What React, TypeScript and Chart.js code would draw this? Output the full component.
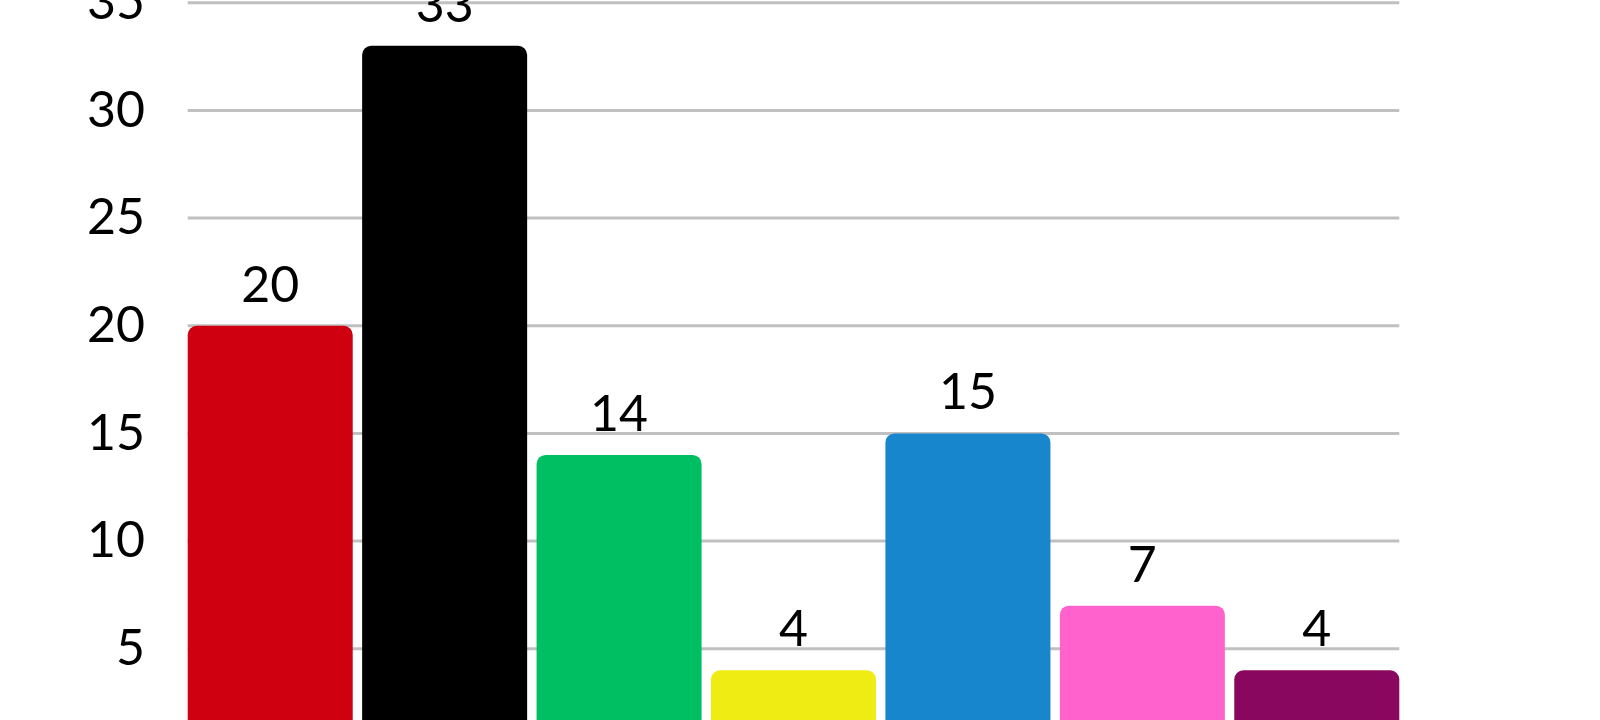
import React, { useEffect, useRef } from 'react';
import Chart from 'chart.js/auto';

const labels = ['A', 'B', 'C', 'D', 'E', 'F', 'G'];
const values = [20, 33, 14, 4, 15, 7, 4];
const colors = ['#cf000f', '#000000', '#00bf63', '#efec14', '#1786cc', '#ff62cd', '#8a075f'];
const yTicks = { min: 0, max: 35, step: 5 };

const FONT = 'Lato, "Open Sans", sans-serif';

// horizontal grid lines, only as wide as the row of bars
const gridPlugin = {
  id: 'barGrid',
  beforeDatasetsDraw(chart) {
    const meta = chart.getDatasetMeta(0);
    const first = meta.data[0].getProps(['x', 'width'], true);
    const last = meta.data[meta.data.length - 1].getProps(['x', 'width'], true);
    const left = first.x - first.width / 2;
    const right = last.x + last.width / 2;
    const y = chart.scales.y;
    const ctx = chart.ctx;
    ctx.save();
    ctx.strokeStyle = '#c0c0c0';
    ctx.lineWidth = 3;
    y.ticks.forEach((t) => {
      const py = y.getPixelForValue(t.value);
      ctx.beginPath();
      ctx.moveTo(left, py);
      ctx.lineTo(right, py);
      ctx.stroke();
    });
    ctx.restore();
  }
};

// value above each bar
const valuePlugin = {
  id: 'valueLabels',
  afterDatasetsDraw(chart) {
    const ctx = chart.ctx;
    const meta = chart.getDatasetMeta(0);
    ctx.save();
    ctx.font = '400 50px ' + FONT;
    ctx.fillStyle = '#000';
    ctx.textAlign = 'center';
    ctx.textBaseline = 'alphabetic';
    meta.data.forEach((bar, i) => {
      const p = bar.getProps(['x', 'y'], true);
      ctx.fillText(String(values[i]), p.x, p.y - 24);
    });
    ctx.restore();
  }
};

const BarChart = () => {
  const chartRef = useRef<HTMLCanvasElement>(null);

  useEffect(() => {
    if (!chartRef.current) return;
    const chart = new Chart(chartRef.current, {
      type: 'bar',
      data: {
        labels,
        datasets: [
          {
            data: values,
            backgroundColor: colors,
            borderWidth: 0,
            borderRadius: 9,
            borderSkipped: 'bottom',
            barPercentage: 0.946,
            categoryPercentage: 1
          }
        ]
      },
      options: {
        responsive: false,
        animation: false,
        devicePixelRatio: 1,
        // canvas sits 80px above the page top, so the 35 line lands at ~3px
        layout: { padding: { top: 82.8, bottom: 83.6, left: 0, right: 196 } },
        scales: {
          x: { display: false },
          y: {
            min: yTicks.min,
            max: yTicks.max,
            border: { display: false },
            grid: { display: false, drawTicks: false },
            ticks: {
              stepSize: yTicks.step,
              padding: 38,
              color: '#000',
              font: { family: FONT, size: 50, weight: '400' }
            },
            afterFit: (s) => {
              s.width = 183;
            }
          }
        },
        plugins: {
          legend: { display: false },
          tooltip: { enabled: false }
        }
      },
      plugins: [gridPlugin, valuePlugin]
    });

    return () => {
      chart.destroy();
    };
  }, []);

  return (
    <div style={{ position: 'fixed', left: 0, top: 0, width: 1600, height: 720, overflow: 'hidden', background: '#fff' }}>
      <canvas ref={chartRef} width={1600} height={920} style={{ position: 'absolute', left: 0, top: -80 }} />
    </div>
  );
};

export default function App() {
  return <BarChart />;
}
